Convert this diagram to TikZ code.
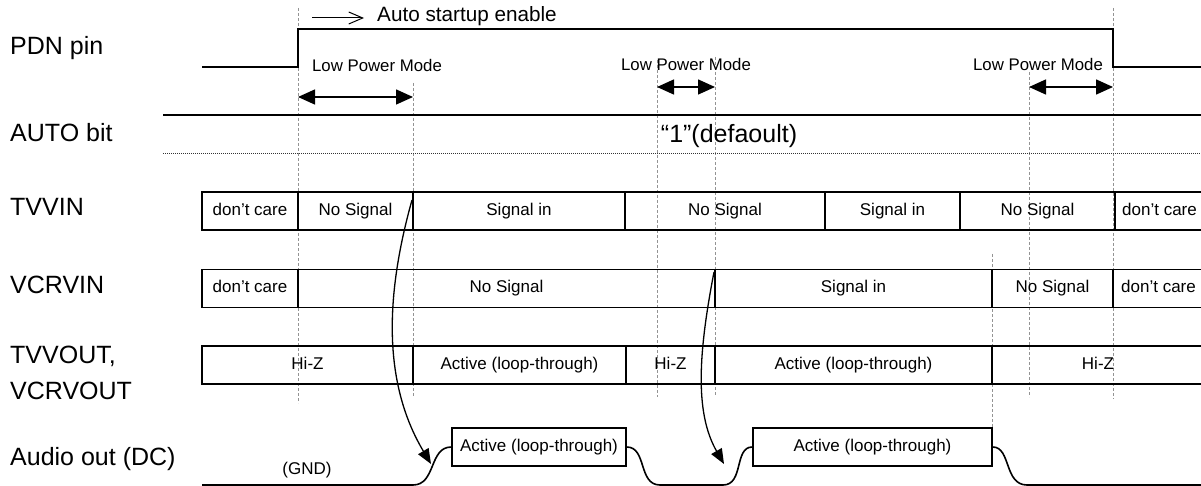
\documentclass[tikz,border=0pt]{standalone}
\usepackage{fontspec}
\setmainfont{Liberation Sans}
\usetikzlibrary{arrows.meta}
\begin{document}
\begin{tikzpicture}[x=1pt,y=-1pt,
  lbl/.style={anchor=base west, inner sep=0pt, font=\fontsize{25}{30}\selectfont},
  note/.style={inner sep=0pt, font=\fontsize{16.8}{20}\selectfont},
  cell/.style={draw, line width=1.5pt, inner sep=0pt, minimum height=38pt,
               text height=12.2pt, text depth=3.6pt, font=\fontsize{17}{20}\selectfont},
  wave/.style={line width=1.6pt},
  guide/.style={draw=gray!85, line width=0.6pt, dash pattern=on 3pt off 2pt},
  lpm/.style={line width=1.5pt, {Triangle[length=17pt,width=15pt]}-{Triangle[length=17pt,width=15pt]}},
  cause/.style={line width=1.3pt, -{Triangle[length=15pt,width=12pt]}},
  hint/.style={line width=1pt, -{Straight Barb[length=14pt,width=12pt]}}
]
\useasboundingbox (0,0) rectangle (1201,486);

% guide lines
\draw[guide] (298,8) -- (298,403);
\draw[guide] (413,83) -- (413,397);
\draw[guide] (657,60) -- (657,397);
\draw[guide] (715,57) -- (715,395);
\draw[guide] (1029,72) -- (1029,397);
\draw[guide] (1113,8) -- (1113,399);
\draw[guide] (992,254) -- (992,427);

% row labels
\node[lbl] (lpdn) at (10,55) {PDN pin};
\node[lbl] (lauto) at (10,142) {AUTO bit};
\node[lbl] (ltvin) at (10,216) {TVVIN};
\node[lbl] (lvcin) at (10,293) {VCRVIN};
\node[lbl] (ltvout) at (10,363) {TVVOUT,};
\node[lbl] (lvcout) at (10,399) {VCRVOUT};
\node[lbl] (laudio) at (10,465) {Audio out (DC)};

% PDN pin
\draw[wave] (202,67) -- (298,67) -- (298,29) -- (1113,29) -- (1113,67) -- (1201,67);
\coordinate (hs) at (312,18);
\coordinate (he) at (364,18);
\draw[hint] (hs) -- (he);
\node[anchor=base west, inner sep=0pt, font=\fontsize{20.7}{24}\selectfont] (auto) at (377,22) {Auto startup enable};

% Low power mode
\node[note] (lp1t) at (377,65) {Low Power Mode};
\node[note] (lp2t) at (686,64) {Low Power Mode};
\node[note] (lp3t) at (1038,64) {Low Power Mode};
\coordinate (lp1a) at (298,97); \coordinate (lp1b) at (413,97);
\coordinate (lp2a) at (657,87); \coordinate (lp2b) at (715,87);
\coordinate (lp3a) at (1029,87); \coordinate (lp3b) at (1113,87);
\draw[lpm] (lp1a) -- (lp1b);
\draw[lpm] (lp2a) -- (lp2b);
\draw[lpm] (lp3a) -- (lp3b);

% AUTO bit
\draw[line width=1.6pt] (163,115) -- (1201,115);
\draw[line width=0.9pt, draw=black!80, dash pattern=on 1pt off 1pt] (163,153) -- (1201,153);
\node[anchor=base, inner sep=0pt, font=\fontsize{25}{30}\selectfont] (one) at (729,143) {“1”(defaoult)};

% TVVIN
\node[cell, minimum width=96pt]  (tv1) at (250,211)    {don’t care};
\node[cell, minimum width=115pt] (tv2) at (355.5,211)  {No Signal};
\node[cell, minimum width=212pt] (tv3) at (519,211)    {Signal in};
\node[cell, minimum width=200pt] (tv4) at (725,211)    {No Signal};
\node[cell, minimum width=135pt] (tv5) at (892.5,211)  {Signal in};
\node[cell, minimum width=155pt] (tv6) at (1037.5,211) {No Signal};
\node[cell, minimum width=89pt]  (tv7) at (1159.5,211) {don’t care};

% VCRVIN
\node[cell, minimum width=96pt]  (vc1) at (250,288.5)    {don’t care};
\node[cell, minimum width=417pt] (vc2) at (506.5,288.5)  {No Signal};
\node[cell, minimum width=277pt] (vc3) at (853.5,288.5)  {Signal in};
\node[cell, minimum width=121pt] (vc4) at (1052.5,288.5) {No Signal};
\node[cell, minimum width=91pt]  (vc5) at (1158.5,288.5) {don’t care};

% TVVOUT, VCRVOUT
\node[cell, minimum width=211pt] (to1) at (307.5,365) {Hi-Z};
\node[cell, minimum width=213pt] (to2) at (519.5,365) {Active (loop-through)};
\node[cell, minimum width=89pt]  (to3) at (670.5,365) {Hi-Z};
\node[cell, minimum width=277pt] (to4) at (853.5,365) {Active (loop-through)};
\node[cell, minimum width=212pt] (to5) at (1098,365)  {Hi-Z};

% Audio out
\node[cell, minimum width=174pt] (au1) at (539,447)   {Active (loop-through)};
\node[cell, minimum width=239pt] (au2) at (872.5,447) {Active (loop-through)};
\node[note, font=\fontsize{17}{20}\selectfont] (gnd) at (307,470) {(GND)};
\draw[wave] (202,485) -- (413,485) .. controls (436,485) and (429,447) .. (au1.west);
\draw[wave] (au1.east) .. controls (647,447) and (638,485) .. (660,485) -- (723,485)
  .. controls (744,485) and (734,447) .. (au2.west);
\draw[wave] (au2.east) .. controls (1011,447) and (1004,485) .. (1027,485) -- (1201,485);

% cause arrows
\coordinate (c1s) at (412,200);
\coordinate (c1e) at (431,464);
\coordinate (c2s) at (714,272);
\coordinate (c2e) at (724,464);
\draw[cause] (c1s) .. controls (384,300) and (384,385) .. (c1e);
\draw[cause] (c2s) .. controls (699,350) and (694,412) .. (c2e);
\end{tikzpicture}
\end{document}
